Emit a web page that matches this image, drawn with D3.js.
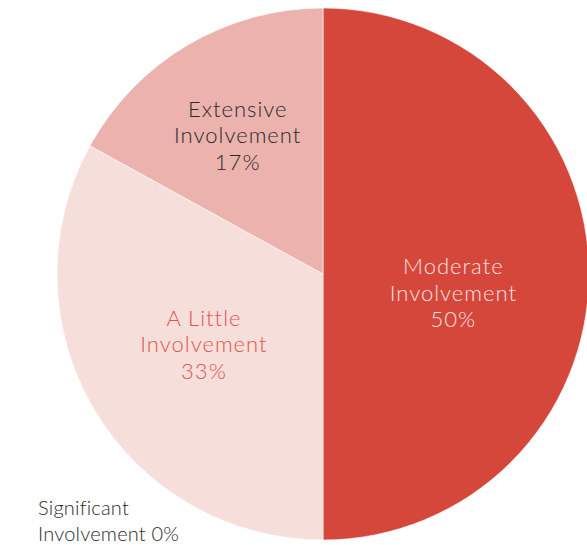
<!DOCTYPE html>
<html>
<head>
<meta charset="utf-8">
<script src="https://cdn.jsdelivr.net/npm/d3@7"></script>
<style>
  html, body { margin: 0; padding: 0; background: #ffffff; }
  svg { display: block; }
  text { font-family: "Lato", "Open Sans", sans-serif; font-weight: 300; letter-spacing: 1px; }
</style>
</head>
<body>
<div id="chart"></div>
<script>
const categories = ["Moderate Involvement", "Significant Involvement", "A Little Involvement", "Extensive Involvement"];
const values = [50, 0, 33, 17];
const labelLines = [["Moderate", "Involvement", "50%"], ["Significant", "Involvement 0%"], ["A Little", "Involvement", "33%"], ["Extensive", "Involvement", "17%"]];
const colors = ["#d4473a", "#f6dedb", "#f6dedb", "#ecb3ae"];
const textColors = ["#fbe3e0", "#2a2a2a", "#e0554a", "#2a2a2a"];

const W = 587, H = 545;
const cx = 323, cy = 274, R = 266;

const svg = d3.select("#chart").append("svg").attr("width", W).attr("height", H);
const g = svg.append("g").attr("transform", `translate(${cx},${cy})`);

const pie = d3.pie().sort(null).value(d => d.value);
const data = categories.map((c, i) => ({ name: c, value: values[i], i }));
const arcs = pie(data);
const arc = d3.arc().innerRadius(0).outerRadius(R);

g.selectAll("path").data(arcs).join("path")
  .attr("d", arc)
  .attr("fill", d => colors[d.data.i])
  .attr("stroke", "#ffffff")
  .attr("stroke-width", d => d.value > 0 ? 1 : 0)
  .attr("stroke-opacity", 0.6);

const labelRatio = [0.49, 0, 0.52, 0.63];
const labelDy = [19, 0, 0, 6];
const fs = 22, lh = 26.5;
arcs.forEach(d => {
  const i = d.data.i;
  const lines = labelLines[i];
  let x, y, anchor = "middle", size = fs, step = lh, ls = "1px";
  if (d.value > 0) {
    const la = d3.arc().innerRadius(R * labelRatio[i]).outerRadius(R * labelRatio[i]);
    [x, y] = la.centroid(d);
    y = y + labelDy[i] - (lines.length - 1) * lh / 2;
  } else {
    // zero-size slice: label sits outside, lower left
    x = -285; y = 234;
    anchor = "start"; size = 20; step = 26; ls = "0.2px";
  }
  const t = g.append("text")
    .attr("text-anchor", anchor)
    .attr("fill", textColors[i])
    .attr("font-size", size)
    .style("letter-spacing", ls);
  lines.forEach((ln, k) => {
    t.append("tspan").attr("x", x).attr("y", y + k * step).attr("dy", "0.35em").text(ln);
  });
});
</script>
</body>
</html>
